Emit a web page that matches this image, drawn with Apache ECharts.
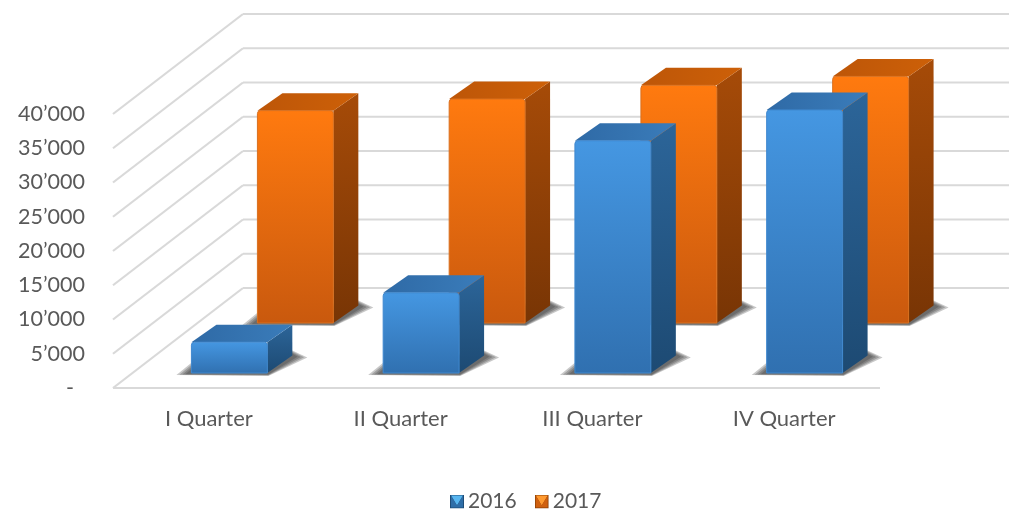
<!DOCTYPE html>
<html><head><meta charset="utf-8">
<style>html,body{margin:0;padding:0;background:#fff}#c{width:1009px;height:519px}</style>
<script src="https://cdn.jsdelivr.net/npm/echarts@6/dist/echarts.min.js"></script>
</head><body><div id="c"></div>
<script>
const categories = ['I Quarter','II Quarter','III Quarter','IV Quarter'];
const values2016 = [4500, 11700, 33900, 38400];
const values2017 = [31000, 32700, 34700, 36000];
const wallTicks = [0,5000,10000,15000,20000,25000,30000,35000,40000];

const FONT = 'Lato, "Open Sans", sans-serif';
const WALL = {dx:130, dy:100};
const BAR = {dx:25, dy:17.5, widthFrac:0.396};
const G = (a,b,x2,y2)=>new echarts.graphic.LinearGradient(0,0,x2||0,y2===undefined?1:y2,[{offset:0,color:a},{offset:1,color:b}]);
const svgIcon=(a,b,c)=>'image://data:image/svg+xml;utf8,'+encodeURIComponent(
 `<svg xmlns="http://www.w3.org/2000/svg" width="14" height="14"><rect width="14" height="14" fill="${c}"/><polygon points="1,1 13,1 7,11" fill="${a}"/><polygon points="1,1 1,13 13,13 13,1 7,11" fill="${b}"/></svg>`);

function shadowLayers(x0,x1,yb,dx,dy){
  const out=[];
  [1,0.75,0.5,0.25].forEach(t=>{
    out.push({type:'polygon',shape:{points:[
      [x0+1,yb-3-8*t],[x0-3-12*t,yb+1+t],[x1+1,yb+1+2*t],
      [x1+dx+2+13*t,yb-dy+1+t],[x1+dx,yb-dy-1-4*t]
    ]},style:{fill:'rgba(50,50,50,0.27)'}});
  });
  return out;
}
function barRenderer(row, pal){
  return function(params, api){
    const idx = api.value(0), val = api.value(1);
    const base = api.coord([idx,0]), top = api.coord([idx,val]);
    const w = api.size([1,0])[0]*BAR.widthFrac;
    const x0 = base[0]+row.dx-w/2, x1 = x0+w;
    const yb = base[1]-row.dy, yt = top[1]-row.dy;
    const dx = BAR.dx, dy = BAR.dy;
    return {type:'group',children:shadowLayers(x0,x1,yb,dx,dy).concat([
      {type:'polygon',shape:{points:[[x1,yt],[x1+dx,yt-dy],[x1+dx,yb-dy],[x1,yb]]},
       style:{fill:G(pal.side[0],pal.side[1])}},
      {type:'polygon',shape:{points:[[x0,yt],[x0+dx,yt-dy],[x1+dx,yt-dy],[x1,yt]]},
       style:{fill:G(pal.top[0],pal.top[1],1,0.15)}},
      {type:'rect',shape:{x:x0,y:yt,width:w,height:yb-yt,r:[3,3,0,0]},
       style:{fill:G(pal.front[0],pal.front[1]),stroke:pal.edge,lineWidth:1}}
    ])};
  };
}
function wallRenderer(params, api){
  const v = api.value(0);
  const rect = params.coordSys;
  const y = api.coord([0,v])[1];
  const xa = rect.x, xb = rect.x+rect.width;
  const common = {stroke:'#d9d9d9',lineWidth:2.2};
  const children = [
    {type:'line',shape:{x1:xa,y1:y,x2:xa+WALL.dx,y2:y-WALL.dy},style:common},
    {type:'line',shape:{x1:xa+WALL.dx,y1:y-WALL.dy,x2:xb+WALL.dx,y2:y-WALL.dy},style:common}
  ];
  if(v===0) children.push({type:'line',shape:{x1:xa,y1:y,x2:xb,y2:y},style:common});
  return {type:'group',children};
}
const chart = echarts.init(document.getElementById('c'),null,{renderer:'canvas'});
chart.setOption({
  animation:false,
  backgroundColor:'#fff',
  grid:{left:113,right:129,top:114,bottom:131,containLabel:false},
  legend:{
    top:486,left:445,itemWidth:14,itemHeight:14,itemGap:18,
    textStyle:{fontFamily:FONT,fontSize:21,color:'#595959',padding:[0,0,0,-1]},
    data:[{name:'2016',icon:svgIcon('#58b6f0','#2f6ea8','#1f4d78')},{name:'2017',icon:svgIcon('#ff9a30','#d0600f','#8a3f05')}]
  },
  xAxis:{type:'category',data:categories,axisLine:{show:false},axisTick:{show:false},
    axisLabel:{fontFamily:FONT,fontSize:22,color:'#595959',margin:20}},
  yAxis:{type:'value',min:0,max:40000,interval:5000,splitLine:{show:false},axisLine:{show:false},axisTick:{show:false},
    axisLabel:{fontFamily:FONT,fontSize:21.5,color:'#595959',margin:28,
      formatter:v=>v===0?'-  ':String(v/1000)+'’000'}},
  series:[
    {type:'custom',name:'wall',z:1,silent:true,clip:false,data:wallTicks.map(v=>[v]),encode:{y:0},renderItem:wallRenderer},
    {type:'custom',name:'2016',z:3,clip:false,itemStyle:{color:'#3b86cc'},
      data:values2016.map((v,i)=>[i,v]),encode:{x:0,y:1},
      renderItem:barRenderer({dx:20.5,dy:15},{front:['#4597e2','#3070b0'],side:['#2c6599','#1d4a73'],top:['#2f6aa6','#3a7cba'],edge:'#3f88cf'})},
    {type:'custom',name:'2017',z:2,clip:false,itemStyle:{color:'#e8690e'},
      data:values2017.map((v,i)=>[i,v]),encode:{x:0,y:1},
      renderItem:barRenderer({dx:86.5,dy:65},{front:['#ff7a0f','#c9590e'],side:['#a64b08','#783505'],top:['#bd5608','#cd6008'],edge:'#d9701f'})}
  ]
});
</script></body></html>
